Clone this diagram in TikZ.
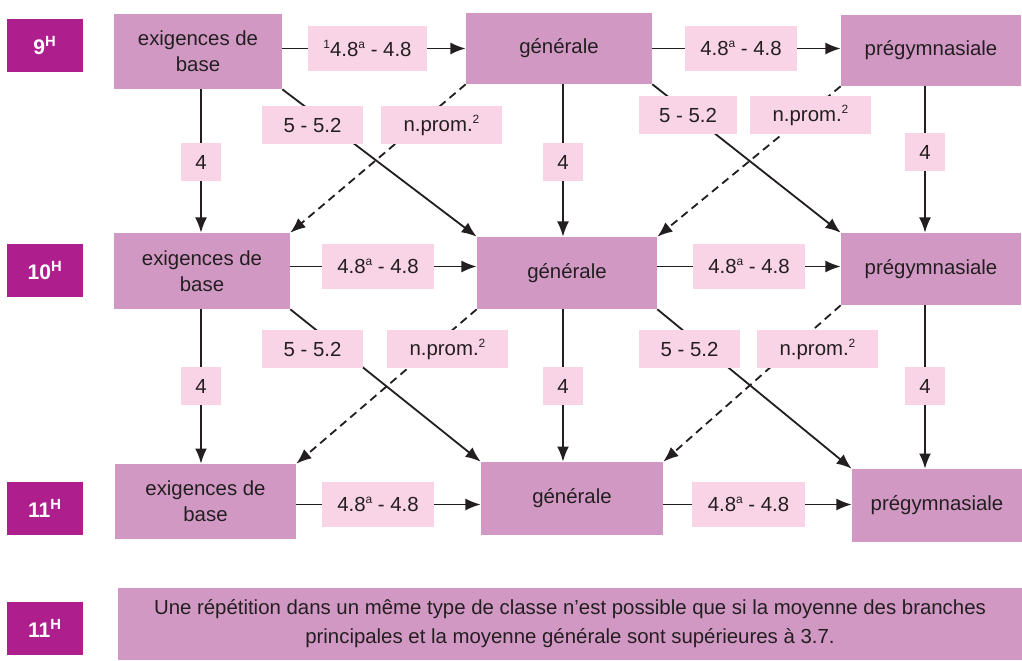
\documentclass[tikz,border=0pt]{standalone}
\usepackage{fontspec}
\setmainfont{Liberation Sans}
\usetikzlibrary{arrows.meta}
\usetikzlibrary{backgrounds}
\definecolor{gradecol}{HTML}{AE1F8D}
\definecolor{boxcol}{HTML}{D198C4}
\definecolor{lblcol}{HTML}{F9D3E6}
\definecolor{txtcol}{HTML}{231F20}
\newcommand{\hsup}[1]{\raisebox{0.75ex}{\fontsize{8.5}{8.5}\selectfont #1}}

\begin{document}
\begin{tikzpicture}[x=0.025cm,y=-0.025cm]
  \tikzset{grade/.style = {fill=gradecol,text=white,font=\fontsize{15}{18}\selectfont\bfseries,minimum width=1.9cm,minimum height=1.3cm,inner sep=0pt}}
  \tikzset{class/.style = {fill=boxcol,text=txtcol,font=\fontsize{14.5}{18.5}\selectfont,align=center,inner sep=0pt}}
  \tikzset{lbl/.style = {fill=lblcol,text=txtcol,font=\fontsize{14.5}{18}\selectfont,inner sep=0pt,minimum height=0.95cm}}
  \tikzset{edge/.style = {-{Latex[length=0.38cm,width=0.3cm]},line width=1.3pt,draw=txtcol}}
  \tikzset{pass/.style = {edge,dash pattern=on 0.2cm off 0.13cm}}

  \useasboundingbox (0,0) rectangle (1022,661);

  % school years
	\node[grade] (Y9) at (45,45.5) {9\textsuperscript{H}};
	\node[grade] (Y10) at (45,270.5) {10\textsuperscript{H}};
	\node[grade] (Y11) at (45,508.5) {11\textsuperscript{H}};
	\node[grade] (Yrep) at (45,628.5) {11\textsuperscript{H}};

  % class types
	\node[class,minimum width=4.2cm,minimum height=1.875cm] (E9) at (198,51.5) {exigences de\\base};
	\node[class,minimum width=4.65cm,minimum height=1.775cm] (G9) at (559,48.5) {générale};
	\node[class,minimum width=4.5cm,minimum height=1.775cm] (P9) at (931,50.5) {prégymnasiale};

	\node[class,minimum width=4.4cm,minimum height=1.9cm] (E10) at (202,271) {exigences de\\base};
	\node[class,minimum width=4.5cm,minimum height=1.8cm] (G10) at (567,273) {générale};
	\node[class,minimum width=4.5cm,minimum height=1.8cm] (P10) at (931,269) {prégymnasiale};

	\node[class,minimum width=4.525cm,minimum height=1.875cm] (E11) at (205.5,501.5) {exigences de\\base};
	\node[class,minimum width=4.55cm,minimum height=1.825cm] (G11) at (572,498.5) {générale};
	\node[class,minimum width=4.25cm,minimum height=1.825cm] (P11) at (937,505.5) {prégymnasiale};

	\node[class,minimum width=22.6cm,minimum height=1.8cm,font=\fontsize{14.5}{20.5}\selectfont] (Rep) at (570,624)
	  {Une répétition dans un même type de classe n’est possible que si la moyenne des branches\\principales et la moyenne générale sont supérieures à 3.7.};

  % conditions
	\node[lbl,minimum width=2.975cm,minimum height=1.125cm] (H9a) at (367.5,48.5) {\hsup{1}4.8\hsup{a} - 4.8};
	\node[lbl,minimum width=2.8cm,minimum height=1.125cm] (H9b) at (741,48.5) {4.8\hsup{a} - 4.8};
	\node[lbl,minimum width=2.8cm,minimum height=1.125cm] (H10a) at (378,266.5) {4.8\hsup{a} - 4.8};
	\node[lbl,minimum width=2.8cm,minimum height=1.125cm] (H10b) at (749,266.5) {4.8\hsup{a} - 4.8};
	\node[lbl,minimum width=2.8cm,minimum height=1.125cm] (H11a) at (378,504.5) {4.8\hsup{a} - 4.8};
	\node[lbl,minimum width=2.8cm,minimum height=1.125cm] (H11b) at (748.5,504.5) {4.8\hsup{a} - 4.8};

	\node[lbl,minimum width=2.525cm] (D9a) at (312.5,125) {5 - 5.2};
	\node[lbl,minimum width=3.025cm] (D9b) at (441.5,125) {n.prom.\hsup{2}};
	\node[lbl,minimum width=2.45cm] (D9c) at (688,115) {5 - 5.2};
	\node[lbl,minimum width=3.025cm] (D9d) at (810.5,115) {n.prom.\hsup{2}};
	\node[lbl,minimum width=2.525cm] (D10a) at (312.5,349) {5 - 5.2};
	\node[lbl,minimum width=3.025cm] (D10b) at (447.5,349) {n.prom.\hsup{2}};
	\node[lbl,minimum width=2.525cm] (D10c) at (689.5,349) {5 - 5.2};
	\node[lbl,minimum width=3.025cm] (D10d) at (817.5,349) {n.prom.\hsup{2}};

	\node[lbl,minimum width=1cm] (V9a) at (201,162) {4};
	\node[lbl,minimum width=1cm] (V9b) at (563,162) {4};
	\node[lbl,minimum width=1cm] (V9c) at (925,152) {4};
	\node[lbl,minimum width=1cm] (V10a) at (201,386) {4};
	\node[lbl,minimum width=1cm] (V10b) at (563,386) {4};
	\node[lbl,minimum width=1cm] (V10c) at (925,386) {4};

  \begin{scope}[on background layer]
	\foreach \from/\to/\via in {E9/G9/H9a, G9/P9/H9b, E10/G10/H10a, G10/P10/H10b, E11/G11/H11a, G11/P11/H11b}
    \draw[edge] (\from.east |- \via) -- (\to.west |- \via);
	\foreach \from/\to/\via in {E9/E10/V9a, G9/G10/V9b, P9/P10/V9c, E10/E11/V10a, G10/G11/V10b, P10/P11/V10c}
    \draw[edge] (\from.south -| \via) -- (\to.north -| \via);
	\foreach \from/\to in {E9/G10, G9/P10, E10/G11, G10/P11}
    \draw[edge] (\from.south east) -- (\to.north west);
	\foreach \from/\to in {G9/E10, P9/G10, G10/E11, P10/G11}
    \draw[pass] (\from.south west) -- (\to.north east);
  \end{scope}
\end{tikzpicture}
\end{document}
